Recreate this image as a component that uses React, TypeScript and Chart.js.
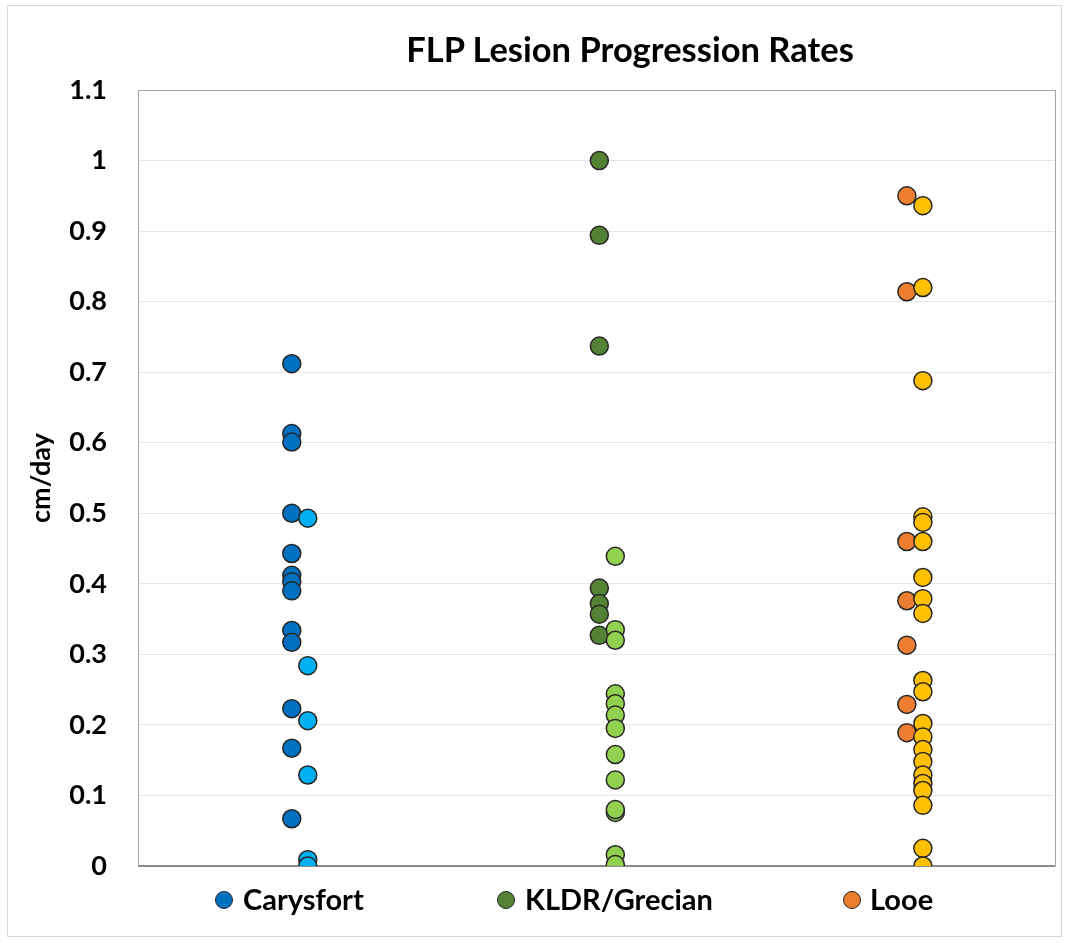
import React, { useEffect, useRef } from "react";
import { Chart, registerables } from "chart.js";

Chart.register(...registerables);

const chartTitle = "FLP Lesion Progression Rates";
const yAxisTitle = "cm/day";
const categories = ["Carysfort", "KLDR/Grecian", "Looe"];
const yTickLabels = ["0", "0.1", "0.2", "0.3", "0.4", "0.5", "0.6", "0.7", "0.8", "0.9", "1", "1.1"];

// Darker series (shown in legend)
const carysfortA = [0.712, 0.613, 0.601, 0.5, 0.443, 0.412, 0.403, 0.39, 0.334, 0.317, 0.223, 0.167, 0.067];
const kldrA = [1.0, 0.894, 0.737, 0.394, 0.372, 0.357, 0.327];
const looeA = [0.95, 0.814, 0.46, 0.376, 0.313, 0.229, 0.189];
// Lighter companion series (not in legend)
const carysfortB = [0.493, 0.284, 0.206, 0.129, 0.009, 0.0];
const kldrB = [0.439, 0.335, 0.32, 0.244, 0.23, 0.214, 0.195, 0.158, 0.122, 0.076, 0.08, 0.016, 0.002];
const looeB = [0.936, 0.82, 0.688, 0.495, 0.487, 0.46, 0.409, 0.379, 0.358, 0.263, 0.247, 0.202, 0.183, 0.165, 0.148, 0.129, 0.117, 0.107, 0.086, 0.025, 0.0];

const darkColors = ["#0070C0", "#548235", "#ED7D31"];
const lightColors = ["#00B0F0", "#92D050", "#FFC000"];
const LIGHT_OFFSET = 0.052;
const FONT = "Lato, 'Open Sans', sans-serif";

const toPoints = (vals: number[], catIndex: number, offset: number) =>
  vals.map((v) => ({ x: catIndex + 0.5 + offset, y: v }));

export default function App() {
  const ref = useRef<HTMLCanvasElement | null>(null);

  useEffect(() => {
    document.body.style.margin = "0";
    const canvas = ref.current;
    if (!canvas) return;

    const darkSeries = [carysfortA, kldrA, looeA];
    const lightSeries = [carysfortB, kldrB, looeB];
    const datasets: any[] = [];
    darkSeries.forEach((vals, i) => {
      datasets.push({
        label: categories[i],
        data: toPoints(vals, i, 0),
        backgroundColor: darkColors[i],
        borderColor: "#262626",
        borderWidth: 1.5,
        pointRadius: 9,
        pointHoverRadius: 9,
        order: 2,
      });
    });
    lightSeries.forEach((vals, i) => {
      datasets.push({
        label: categories[i] + " (2)",
        data: toPoints(vals, i, LIGHT_OFFSET),
        backgroundColor: lightColors[i],
        borderColor: "#262626",
        borderWidth: 1.5,
        pointRadius: 9,
        pointHoverRadius: 9,
        order: 1,
      });
    });

    const framePlugin = {
      id: "frame",
      beforeDatasetsDraw(chart: any) {
        const { ctx, chartArea } = chart;
        const { left, right, top, bottom } = chartArea;
        ctx.save();
        ctx.strokeStyle = "#a6a6a6";
        ctx.lineWidth = 1;
        ctx.strokeRect(Math.round(left) + 0.5, Math.round(top) + 0.5, Math.round(right - left), Math.round(bottom - top));
        ctx.strokeStyle = "#8c8c8c";
        ctx.lineWidth = 2;
        ctx.beginPath();
        ctx.moveTo(left, Math.round(bottom));
        ctx.lineTo(right, Math.round(bottom));
        ctx.stroke();
        ctx.restore();
      },
    };

    const chart = new Chart(canvas, {
      type: "scatter",
      data: { datasets },
      plugins: [framePlugin],
      options: {
        responsive: false,
        animation: false,
        events: [],
        layout: { padding: { left: 0, right: 5, top: 90, bottom: 77 } },
        plugins: {
          legend: { display: false },
          title: { display: false },
          tooltip: { enabled: false },
        },
        scales: {
          x: {
            type: "linear",
            min: 0,
            max: 2.98,
            ticks: { display: false },
            grid: { display: false },
            border: { display: false },
            afterFit: (s: any) => {
              s.height = 0;
            },
          },
          y: {
            type: "linear",
            min: 0,
            max: 1.1,
            ticks: {
              stepSize: 0.1,
              padding: 31,
              color: "#000",
              font: { family: FONT, size: 27, weight: "bold" },
              callback: (_v: any, i: number) => yTickLabels[i],
            },
            grid: { color: "#e6e6e6", lineWidth: 1, drawTicks: false },
            border: { display: false },
            title: {
              display: true,
              text: yAxisTitle,
              color: "#000",
              font: { family: FONT, size: 27, weight: "bold" },
              padding: { top: 25, bottom: 0 },
            },
            afterFit: (s: any) => {
              s.width = 138;
            },
          },
        },
      },
    });
    return () => chart.destroy();
  }, []);

  const legendPos = [
    { marker: 224, text: 243 },
    { marker: 506, text: 525 },
    { marker: 852, text: 870 },
  ];

  return (
    <div style={{ position: "relative", width: 1065, height: 943, background: "#fff", overflow: "hidden" }}>
      <div
        style={{
          position: "absolute",
          left: 7,
          top: 5,
          width: 1055,
          height: 932,
          border: "1px solid #d9d9d9",
          boxSizing: "border-box",
        }}
      />
      <canvas ref={ref} width={1065} height={943} style={{ position: "absolute", left: 0, top: 0, display: "block" }} />
      <div
        style={{
          position: "absolute",
          left: 630,
          top: 32,
          transform: "translateX(-50%)",
          whiteSpace: "nowrap",
          fontFamily: FONT,
          fontWeight: 700,
          fontSize: 34.5,
          lineHeight: 1,
          color: "#000",
        }}
      >
        {chartTitle}
      </div>
      {categories.map((c, i) => (
        <React.Fragment key={c}>
          <div
            style={{
              position: "absolute",
              left: legendPos[i].marker - 9,
              top: 891,
              width: 18,
              height: 18,
              borderRadius: "50%",
              background: darkColors[i],
              border: "1.5px solid #262626",
              boxSizing: "border-box",
            }}
          />
          <div
            style={{
              position: "absolute",
              left: legendPos[i].text,
              top: 884,
              whiteSpace: "nowrap",
              fontFamily: FONT,
              fontWeight: 700,
              fontSize: 29,
              lineHeight: 1,
              color: "#000",
            }}
          >
            {c}
          </div>
        </React.Fragment>
      ))}
    </div>
  );
}
